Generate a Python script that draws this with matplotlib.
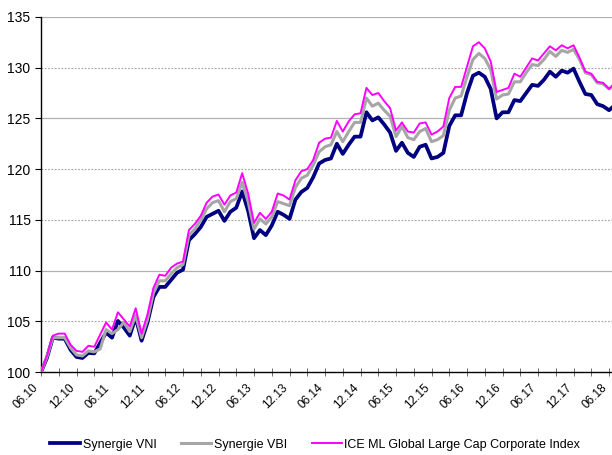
import matplotlib
matplotlib.use("Agg")
import matplotlib.pyplot as plt
import matplotlib.transforms as mtransforms
from matplotlib.ticker import MultipleLocator

plt.rcParams["font.family"] = ["Liberation Sans", "DejaVu Sans"]

# month labels shown every 6 months (06.10 ... 06.18), monthly data points
tick_labels = ["06.10", "12.10", "06.11", "12.11", "06.12", "12.12", "06.13",
               "12.13", "06.14", "12.14", "06.15", "12.15", "06.16", "12.16",
               "06.17", "12.17", "06.18"]

vni = [100.0, 101.4, 103.4, 103.3, 103.3, 102.2, 101.5, 101.4, 101.9, 101.85,
       102.9, 103.9, 103.4, 105.05, 104.4, 103.6, 105.4, 103.1, 104.9, 107.4,
       108.4, 108.4, 109.1, 109.8, 110.1, 113.0, 113.6, 114.3, 115.3, 115.6,
       115.9, 114.9, 115.8, 116.2, 117.8, 115.9, 113.2, 114.0, 113.5, 114.45,
       115.8, 115.5, 115.1, 117.0, 117.75, 118.15, 119.2, 120.55, 120.9, 121.05,
       122.5, 121.5, 122.4, 123.2, 123.2, 125.6, 124.8, 125.1, 124.4, 123.6,
       121.8, 122.6, 121.6, 121.2, 122.2, 122.4, 121.05, 121.2, 121.6, 124.25,
       125.3, 125.3, 127.5, 129.2, 129.5, 129.1, 127.9, 125.0, 125.6, 125.6,
       126.8, 126.7, 127.5, 128.3, 128.2, 128.8, 129.6, 129.1, 129.7, 129.5,
       129.9, 128.6, 127.4, 127.3, 126.4, 126.2, 125.8, 126.3]

vbi = [100.0, 101.5, 103.4, 103.4, 103.4, 102.4, 101.7, 101.6, 102.1, 102.0,
       102.3, 104.2, 103.8, 104.2, 104.9, 104.0, 105.6, 103.4, 105.2, 107.8,
       109.0, 109.0, 109.7, 110.3, 110.6, 113.5, 114.1, 115.0, 116.1, 116.7,
       116.9, 115.8, 116.8, 117.1, 118.7, 116.8, 114.1, 115.1, 114.6, 115.3,
       116.8, 116.6, 116.4, 118.2, 119.1, 119.4, 120.4, 121.7, 122.2, 122.4,
       123.7, 122.7, 123.7, 124.6, 124.6, 127.0, 126.2, 126.5, 125.8, 125.2,
       123.2, 124.2, 123.1, 122.9, 123.7, 124.0, 122.7, 122.9, 123.3, 125.8,
       127.0, 127.2, 129.1, 130.8, 131.4, 130.9, 129.8, 126.9, 127.3, 127.4,
       128.6, 128.6, 129.5, 130.3, 130.2, 130.8, 131.6, 131.1, 131.7, 131.5,
       131.8, 130.8, 129.5, 129.3, 128.5, 128.4, 127.9, 128.3]

ice = [100.0, 101.6, 103.6, 103.8, 103.8, 102.7, 102.1, 102.0, 102.6, 102.5,
       103.7, 104.9, 104.2, 105.9, 105.2, 104.5, 106.3, 103.8, 105.7, 108.3,
       109.6, 109.5, 110.3, 110.7, 110.9, 114.0, 114.6, 115.4, 116.7, 117.3,
       117.5, 116.5, 117.4, 117.7, 119.6, 117.6, 114.7, 115.7, 115.1, 115.8,
       117.6, 117.4, 117.0, 118.9, 119.8, 120.0, 120.9, 122.6, 123.0, 123.1,
       124.75, 123.7, 124.7, 125.4, 125.5, 128.0, 127.3, 127.5, 126.7, 126.0,
       123.8, 124.6, 123.7, 123.6, 124.5, 124.6, 123.4, 123.7, 124.2, 127.0,
       128.1, 128.1, 130.1, 132.1, 132.5, 131.9, 130.6, 127.6, 127.8, 128.0,
       129.4, 129.1, 130.0, 130.9, 130.7, 131.4, 132.1, 131.7, 132.2, 131.9,
       132.2, 131.0, 129.6, 129.4, 128.6, 128.5, 127.9, 128.5]

months = list(range(len(vni)))

fig = plt.figure(figsize=(6.12, 4.55), dpi=100)
ax = fig.add_axes([0.067, 0.182, 0.933, 0.781])

# horizontal grid: some lines solid, others dotted
for y in [110, 125, 135]:
    ax.axhline(y, color="#b0b0b0", lw=0.9, zorder=0)
for y in [105, 115, 120, 130]:
    ax.axhline(y, color="#a0a0a0", lw=0.8, ls=(0, (1.5, 1.5)), zorder=0)

ax.plot(months, vni, color="#000080", lw=2.7, label="Synergie VNI", zorder=3)
ax.plot(months, vbi, color="#a6a6a6", lw=2.2, label="Synergie VBI", zorder=4)
ax.plot(months, ice, color="#ff00ff", lw=1.4,
        label="ICE ML Global Large Cap Corporate Index", zorder=5)

ax.set_xlim(0, 96.5)
ax.set_ylim(100, 135)
ax.yaxis.set_major_locator(MultipleLocator(5))

ax.set_xticks(range(0, 97, 6))
ax.set_xticklabels(tick_labels, rotation=45, ha="right", rotation_mode="anchor",
                   fontsize=8.5)
ax.xaxis.set_minor_locator(MultipleLocator(3))
ax.tick_params(axis="x", which="both", direction="inout", length=6, width=0.6,
               color="#555555", pad=4)
ax.tick_params(axis="y", direction="out", length=4, width=0.8, labelsize=10)

for side in ["top", "right"]:
    ax.spines[side].set_visible(False)
ax.spines["left"].set_linewidth(1.0)
ax.spines["bottom"].set_linewidth(1.0)

fig.legend(loc="lower center", bbox_to_anchor=(0.515, -0.015), ncol=3,
           frameon=False, fontsize=9, handlelength=2.4, handletextpad=0.2,
           columnspacing=2.0)

# nudge the slanted date labels a little to the left (after ticks exist)
fig.canvas.draw()
shift = mtransforms.ScaledTranslation(-6 / 72, 0, fig.dpi_scale_trans)
for lbl in ax.get_xticklabels():
    lbl.set_transform(lbl.get_transform() + shift)

fig.savefig("out.png", dpi=100)
